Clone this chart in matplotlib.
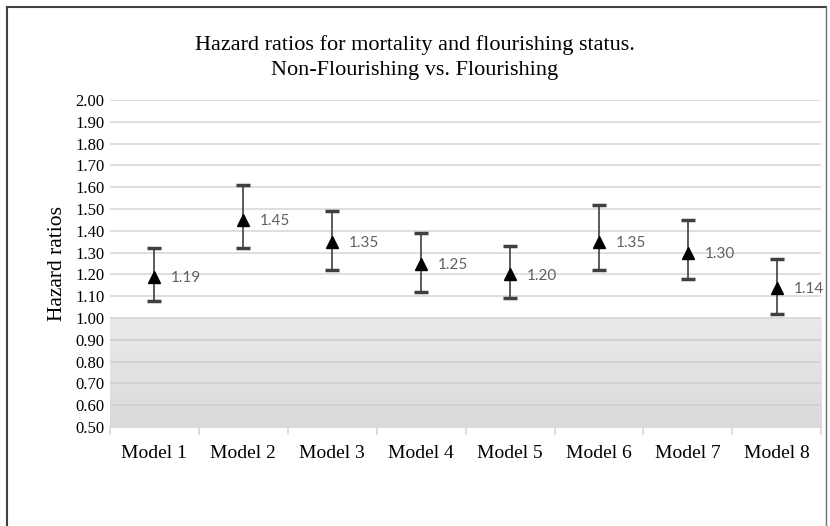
import numpy as np
import matplotlib
matplotlib.use('Agg')
import matplotlib.pyplot as plt
from matplotlib.lines import Line2D

# Hazard ratios with 95% CI
models = ['Model 1', 'Model 2', 'Model 3', 'Model 4', 'Model 5', 'Model 6', 'Model 7', 'Model 8']
hr = [1.19, 1.45, 1.35, 1.25, 1.20, 1.35, 1.30, 1.14]
lower = [1.08, 1.32, 1.22, 1.12, 1.09, 1.22, 1.18, 1.02]
upper = [1.32, 1.61, 1.49, 1.39, 1.33, 1.52, 1.45, 1.27]
yticks = np.round(np.arange(0.5, 2.001, 0.1), 2)

serif = 'Liberation Serif'

fig = plt.figure(figsize=(8.3, 5.26), dpi=100)
ax = fig.add_axes([0.1325, 0.188, 0.857, 0.622])

x = np.arange(len(models))
hr = np.array(hr)
yerr = np.vstack([hr - np.array(lower), np.array(upper) - hr])

ax.set_xlim(-0.5, len(models) - 0.5)
ax.set_ylim(0.5, 2.0)

# grey gradient band below 1.00 (lighter at top)
grad = np.linspace(0, 1, 100).reshape(-1, 1)
cmap = matplotlib.colors.LinearSegmentedColormap.from_list('g', ['#eaeaec', '#dadadd'])
ax.imshow(grad, extent=[-0.5, len(models) - 0.5, 0.5, 1.0], aspect='auto', cmap=cmap,
          zorder=0, origin='upper')

for t in yticks:
    c = '#cfcfd1' if t < 1.0 else '#d9d9d9'
    if t > 0.5:
        ax.axhline(t, color=c, lw=1.2, zorder=1)

ax.errorbar(x, hr, yerr=yerr, fmt='none', ecolor='#404040', elinewidth=1.2,
            capsize=5, capthick=2.5, zorder=3)
ax.plot(x, hr, '^', color='black', markersize=9, zorder=4, linestyle='none')

for xi, v in zip(x, hr):
    ax.annotate('%.2f' % v, (xi, v), xytext=(12, -1), textcoords='offset points',
                ha='left', va='center', fontsize=11, color='#606060', family='Lato')

ax.set_yticks(yticks)
ax.set_yticklabels(['%.2f' % t for t in yticks], family=serif, fontsize=12)
ax.set_xticks(x)
ax.set_xticklabels(models, family=serif, fontsize=14)
ax.set_xticks(np.arange(-0.5, len(models)), minor=True)
ax.tick_params(axis='x', which='major', length=0, pad=13)
ax.tick_params(axis='x', which='minor', length=6, color='#d9d9d9', width=1.2)
ax.tick_params(axis='y', length=0, pad=4)

for s in ['top', 'right', 'left']:
    ax.spines[s].set_visible(False)
ax.spines['bottom'].set_color('#d9d9d9')
ax.spines['bottom'].set_linewidth(1.2)

ax.set_ylabel('Hazard ratios', family=serif, fontsize=15.5, labelpad=6)

fig.text(0.5, 1 - 45 / 526, 'Hazard ratios for mortality and flourishing status.',
         ha='center', va='center', family=serif, fontsize=16)
fig.text(0.5, 1 - 70 / 526, 'Non-Flourishing vs. Flourishing',
         ha='center', va='center', family=serif, fontsize=16)

# outer frame (left, top, right)
fx0, fx1, fy1 = 7 / 830, 826 / 830, 1 - 7 / 526
fig.add_artist(Line2D([fx0, fx0], [0, fy1], color='#404040', lw=1.5, transform=fig.transFigure))
fig.add_artist(Line2D([fx0, fx1], [fy1, fy1], color='#404040', lw=1.5, transform=fig.transFigure))
fig.add_artist(Line2D([fx1, fx1], [0, fy1], color='#707070', lw=1.0, transform=fig.transFigure))

plt.savefig('out.png', dpi=100)
